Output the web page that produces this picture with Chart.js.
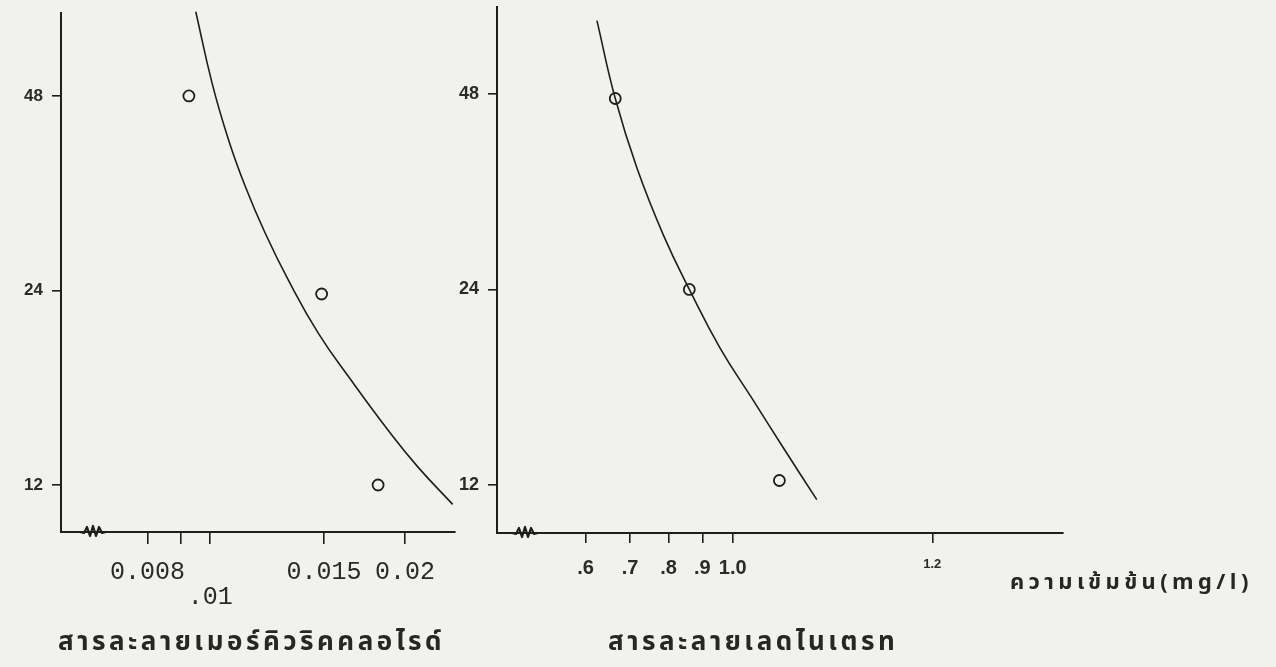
<!DOCTYPE html>
<html lang="th">
<head>
<meta charset="UTF-8">
<title>Concentration vs time</title>
<style>
  html, body { margin: 0; padding: 0; background: #f1f1ee; }
  body { width: 1276px; height: 667px; position: relative; overflow: hidden; }
  .panel { position: absolute; top: 0; }
  #leftBox { left: 0; width: 462px; height: 667px; }
  #rightBox { left: 445px; width: 831px; height: 667px; }
  .lbl {
    position: absolute;
    color: #262626;
    font-family: "Noto Sans Thai", "Loma", "Garuda", "Noto Sans", "DejaVu Sans", sans-serif;
    font-weight: bold;
    white-space: nowrap;
    letter-spacing: 3.5px;
  }
</style>
</head>
<body>
  <div class="panel" id="leftBox"><canvas id="leftChart" width="462" height="667"></canvas></div>
  <div class="panel" id="rightBox"><canvas id="rightChart" width="831" height="667"></canvas></div>

  <div class="lbl" id="leftTitle" style="left:58px; top:622px; font-size:26px;">สารละลายเมอร์คิวริคคลอไรด์</div>
  <div class="lbl" id="rightTitle" style="left:608px; top:622px; font-size:26px;">สารละลายเลดไนเตรท</div>
  <div class="lbl" id="unitTitle" style="left:1010px; top:566px; font-size:22px; letter-spacing:4.4px;">ความเข้มข้น(mg/l)</div>

  <script src="https://cdn.jsdelivr.net/npm/chart.js"></script>
  <script>
    // time axis (hours), log scale on both panels
    const hourTicks = [12, 24, 48];

    // mercuric chloride panel
    const mercuryConc  = [0.00927, 0.01487, 0.01818];
    const mercuryHours = [48, 23.7, 12.0];
    const mercuryCurveX = [0.00950, 0.01007, 0.01068, 0.01134, 0.01217, 0.01321, 0.01470, 0.01654, 0.01883, 0.02094, 0.02371];
    const mercuryCurveY = [64.8, 50.2, 41.0, 34.7, 29.4, 24.9, 20.6, 17.4, 14.6, 12.8, 11.2];
    const mercuryTicks  = [0.008, 0.009, 0.01, 0.015, 0.02];
    const mercuryTickLabels = ['0.008', '', ['', '.01'], '0.015', '0.02'];

    // lead nitrate panel
    const leadConc  = [0.665, 0.860, 1.176];
    const leadHours = [47.2, 24.0, 12.2];
    const leadCurveX = [0.624, 0.665, 0.717, 0.786, 0.862, 0.957, 1.074, 1.192, 1.339];
    const leadCurveY = [62.2, 47.2, 36.9, 29.1, 23.9, 19.5, 16.2, 13.7, 11.4];
    const leadTicks  = [0.6, 0.7, 0.8, 0.9, 1.0, 2.0];
    const leadTickLabels = ['.6', '.7', '.8', '.9', '1.0', '1.2'];

    const ink = '#1e1e1e';

    function zip(xs, ys) { return xs.map((x, i) => ({ x: x, y: ys[i] })); }

    // little zigzag that marks the broken x axis
    const axisBreak = {
      id: 'axisBreak',
      afterDraw(chart, args, opts) {
        const ctx = chart.ctx, a = chart.chartArea;
        const x0 = a.left + opts.offset, y = a.bottom;
        ctx.save();
        ctx.strokeStyle = ink;
        ctx.lineWidth = 2.2;
        ctx.lineJoin = 'round';
        ctx.beginPath();
        ctx.moveTo(x0, y);
        const pts = [[4, 1], [7, -5], [10, 4], [13, -6], [16, 4], [19, -5], [22, 1], [26, 0]];
        pts.forEach(p => ctx.lineTo(x0 + p[0], y + p[1]));
        ctx.stroke();
        ctx.restore();
      }
    };

    function makePanel(canvasId, cfg) {
      return new Chart(document.getElementById(canvasId), {
        type: 'scatter',
        data: {
          datasets: [
            {
              data: zip(cfg.curveX, cfg.curveY),
              showLine: true,
              borderColor: ink,
              borderWidth: 1.6,
              pointRadius: 0,
              tension: 0.45,
              clip: false
            },
            {
              data: zip(cfg.ptX, cfg.ptY),
              showLine: false,
              pointStyle: 'circle',
              pointRadius: 5.5,
              pointBorderWidth: 1.8,
              pointBorderColor: ink,
              pointBackgroundColor: 'rgba(0,0,0,0)'
            }
          ]
        },
        options: {
          responsive: false,
          animation: false,
          layout: { padding: { top: cfg.padTop, right: cfg.padRight, left: 0, bottom: 0 } },
          plugins: {
            legend: { display: false },
            tooltip: { enabled: false },
            axisBreak: { offset: cfg.breakOffset }
          },
          scales: {
            x: {
              type: 'logarithmic',
              min: cfg.xMin,
              max: cfg.xMax,
              afterFit(s) { s.height = cfg.xHeight; s.paddingLeft = 0; s.paddingRight = 0; },
              afterBuildTicks(s) { s.ticks = cfg.xTicks.map(v => ({ value: v })); },
              border: { display: true, color: ink, width: 2 },
              grid: { drawOnChartArea: false, drawTicks: true, tickLength: cfg.xTickLen, color: ink, lineWidth: 1.6 },
              ticks: {
                autoSkip: false,
                maxRotation: 0,
                padding: cfg.xPad,
                color: '#2a2a2a',
                font: cfg.xFont,
                callback: v => {
                  const i = cfg.xTicks.indexOf(v);
                  return i < 0 ? '' : cfg.xLabels[i];
                }
              }
            },
            y: {
              type: 'logarithmic',
              min: cfg.yMin,
              max: cfg.yMax,
              afterFit(s) { s.width = cfg.yWidth; s.paddingTop = 0; s.paddingBottom = 0; },
              afterBuildTicks(s) { s.ticks = hourTicks.map(v => ({ value: v })); },
              border: { display: true, color: ink, width: 2 },
              grid: { drawOnChartArea: false, drawTicks: true, tickLength: 9, color: ink, lineWidth: 1.6 },
              ticks: {
                padding: 9,
                color: '#2a2a2a',
                font: cfg.yFont,
                callback: v => String(v)
              }
            }
          }
        },
        plugins: [axisBreak]
      });
    }

    makePanel('leftChart', {
      curveX: mercuryCurveX, curveY: mercuryCurveY,
      ptX: mercuryConc, ptY: mercuryHours,
      xTicks: mercuryTicks, xLabels: mercuryTickLabels,
      xMin: 0.00588, xMax: 0.02388, yMin: 10.15, yMax: 64.5,
      padTop: 13, padRight: 3, xHeight: 135, yWidth: 61,
      xTickLen: 12, xPad: 16, breakOffset: 19,
      xFont: { family: '"Liberation Mono", "DejaVu Sans Mono", monospace', size: 25, lineHeight: 1.0 },
      yFont: { family: '"Liberation Sans", Arial, sans-serif', size: 17, weight: 'bold' }
    });

    makePanel('rightChart', {
      curveX: leadCurveX, curveY: leadCurveY,
      ptX: leadConc, ptY: leadHours,
      xTicks: leadTicks, xLabels: leadTickLabels,
      xMin: 0.441, xMax: 3.149, yMin: 10.13, yMax: 65.2,
      padTop: 5, padRight: 213, xHeight: 134, yWidth: 52,
      xTickLen: 10, xPad: 15, breakOffset: 15,
      xFont: ctx => ({ family: '"Liberation Sans", Arial, sans-serif', size: (ctx.tick && ctx.tick.value === 2.0) ? 13 : 20, weight: 'bold', lineHeight: 1.0 }),
      yFont: { family: '"Liberation Sans", Arial, sans-serif', size: 18, weight: 'bold' }
    });
  </script>
</body>
</html>
